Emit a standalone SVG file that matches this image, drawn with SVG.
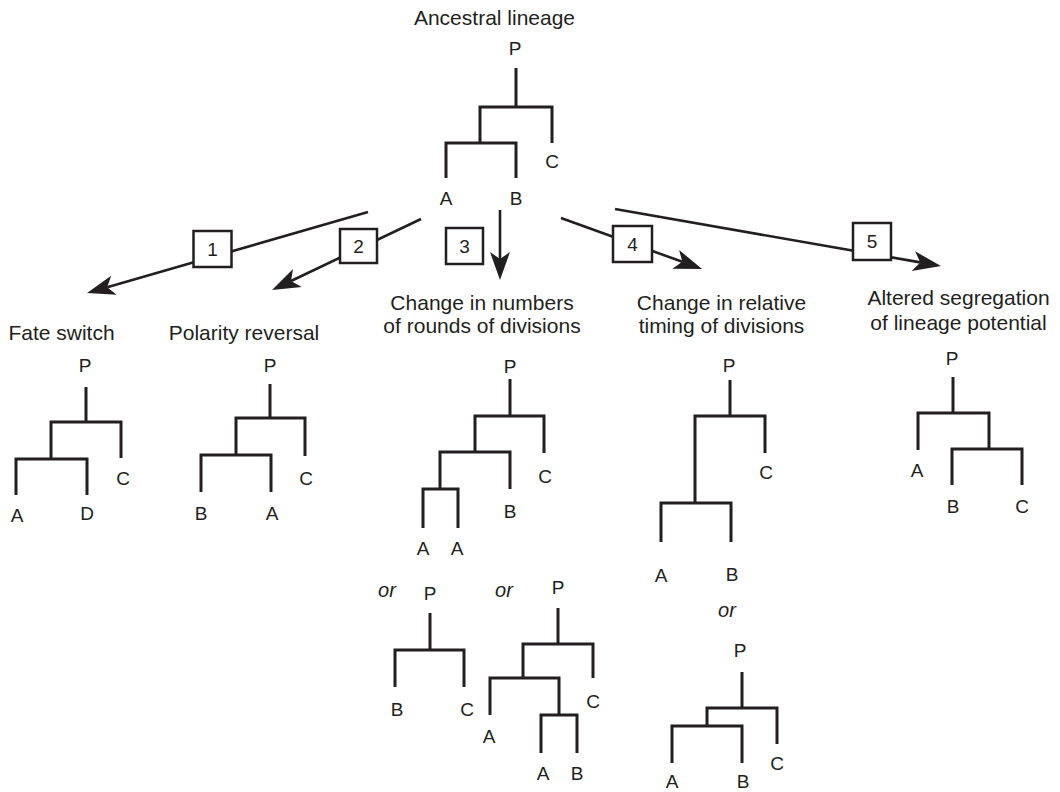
<svg xmlns="http://www.w3.org/2000/svg" width="1060" height="792" viewBox="0 0 1060 792">
<style>
text{font-family:"Liberation Sans",Arial,sans-serif;fill:#231f20;text-anchor:middle}
.t{font-size:21px}
.l{font-size:19px}
.or{font-size:20px;font-style:italic}
.tree path{fill:none;stroke:#231f20;stroke-width:3;stroke-linejoin:miter}
.conn line{stroke:#231f20;stroke-width:2.6}
.box rect{fill:#fff;stroke:#231f20;stroke-width:2.5}
</style>
<defs>
<marker id="ah" markerUnits="userSpaceOnUse" markerWidth="32" markerHeight="24" viewBox="-2 -12 32 24" refX="7" refY="0" orient="auto">
<path d="M0,-10 L28,0 L0,10 L7,0 Z" fill="#231f20"/>
</marker>
</defs>
<rect width="1060" height="792" fill="#fff"/>

<g id="ancestral" class="tree">
<text class="t" x="494.5" y="25">Ancestral lineage</text>
<text class="l" x="515" y="55">P</text>
<path d="M516,68 V107"/>
<path d="M480,143 V107 H552 V143"/>
<path d="M446,178 V143 H516 V178"/>
<text class="l" x="552" y="168">C</text>
<text class="l" x="446" y="205">A</text>
<text class="l" x="516" y="205">B</text>
</g>

<g id="connectors" class="conn">
<line x1="368" y1="212" x2="107.2" y2="287.2" marker-end="url(#ah)"/>
<line x1="421" y1="219" x2="291" y2="281" marker-end="url(#ah)"/>
<line x1="500" y1="210" x2="500" y2="259" marker-end="url(#ah)"/>
<line x1="561" y1="218" x2="682.3" y2="261.8" marker-end="url(#ah)"/>
<line x1="615" y1="209" x2="920.3" y2="262.4" marker-end="url(#ah)"/>
</g>

<g id="box1" class="box"><rect x="193.5" y="231" width="38" height="36"/><text class="l" x="212.5" y="256">1</text></g>
<g id="box2" class="box"><rect x="340" y="229" width="37" height="34"/><text class="l" x="358.5" y="253">2</text></g>
<g id="box3" class="box"><rect x="446" y="228" width="37" height="36"/><text class="l" x="464.5" y="253">3</text></g>
<g id="box4" class="box"><rect x="613" y="226" width="39" height="36"/><text class="l" x="632.5" y="251">4</text></g>
<g id="box5" class="box"><rect x="853" y="223" width="38" height="37"/><text class="l" x="872" y="248">5</text></g>

<g id="fate-switch" class="tree">
<text class="t" x="61.5" y="340">Fate switch</text>
<text class="l" x="85" y="372">P</text>
<path d="M86,387 V422"/>
<path d="M51,459 V422 H121 V458"/>
<path d="M16,495 V459 H87 V495"/>
<text class="l" x="123" y="485">C</text>
<text class="l" x="17" y="522">A</text>
<text class="l" x="87" y="520">D</text>
</g>

<g id="polarity-reversal" class="tree">
<text class="t" x="244" y="340">Polarity reversal</text>
<text class="l" x="270" y="372">P</text>
<path d="M270,384 V418"/>
<path d="M236,455 V418 H305 V456"/>
<path d="M201,492 V455 H271 V492"/>
<text class="l" x="306" y="485">C</text>
<text class="l" x="201" y="520">B</text>
<text class="l" x="272" y="520">A</text>
</g>

<g id="rounds-of-divisions" class="tree">
<text class="t" x="482" y="310">Change in numbers</text>
<text class="t" x="482" y="333">of rounds of divisions</text>
<text class="l" x="510" y="373">P</text>
<path d="M510,379 V416"/>
<path d="M475,452 V416 H544 V453"/>
<path d="M440,489 V452 H510 V489"/>
<path d="M423,528 V489 H458 V528"/>
<text class="l" x="545" y="483">C</text>
<text class="l" x="510" y="518">B</text>
<text class="l" x="423" y="555">A</text>
<text class="l" x="457" y="555">A</text>
</g>

<g id="rounds-alt1" class="tree">
<text class="or" x="387" y="597">or</text>
<text class="l" x="430" y="600">P</text>
<path d="M430,613 V650"/>
<path d="M395,687 V650 H464 V687"/>
<text class="l" x="397" y="716">B</text>
<text class="l" x="467" y="716">C</text>
</g>

<g id="rounds-alt2" class="tree">
<text class="or" x="504" y="597">or</text>
<text class="l" x="558" y="594">P</text>
<path d="M558,608 V644"/>
<path d="M523,678 V644 H593 V678"/>
<path d="M490,715 V678 H559 V715"/>
<path d="M541,753 V715 H577 V753"/>
<text class="l" x="593" y="708">C</text>
<text class="l" x="489" y="743">A</text>
<text class="l" x="543" y="780">A</text>
<text class="l" x="577" y="780">B</text>
</g>

<g id="relative-timing" class="tree">
<text class="t" x="721.5" y="310">Change in relative</text>
<text class="t" x="721.5" y="333">timing of divisions</text>
<text class="l" x="729" y="372">P</text>
<path d="M730,380 V416"/>
<path d="M695,503 V416 H765 V453"/>
<path d="M661,542 V503 H731 V542"/>
<text class="l" x="766" y="479">C</text>
<text class="l" x="661" y="582">A</text>
<text class="l" x="732" y="581">B</text>
</g>

<g id="timing-alt" class="tree">
<text class="or" x="727" y="617">or</text>
<text class="l" x="740" y="657">P</text>
<path d="M742,672 V708"/>
<path d="M707,726 V708 H777 V744"/>
<path d="M672,763 V726 H742 V763"/>
<text class="l" x="777" y="770">C</text>
<text class="l" x="672" y="788">A</text>
<text class="l" x="743" y="788">B</text>
</g>

<g id="altered-segregation" class="tree">
<text class="t" x="958.5" y="305">Altered segregation</text>
<text class="t" x="958.5" y="330">of lineage potential</text>
<text class="l" x="952" y="365">P</text>
<path d="M953,377 V413"/>
<path d="M918,450 V413 H989 V449"/>
<path d="M952,485 V449 H1022 V485"/>
<text class="l" x="917" y="477">A</text>
<text class="l" x="953" y="513">B</text>
<text class="l" x="1022" y="513">C</text>
</g>
</svg>
